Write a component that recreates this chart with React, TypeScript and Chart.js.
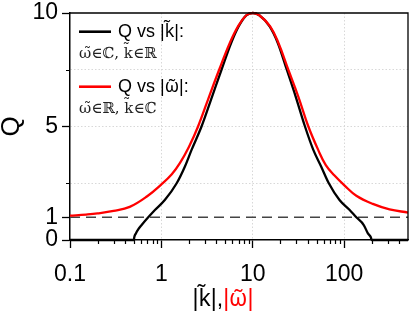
import React, { useEffect, useRef } from "react";
import { Chart, registerables } from "chart.js";

Chart.register(...registerables);

// ---- data ----
const redX = [0.1, 0.15, 0.2, 0.3, 0.45, 0.7, 1.0, 1.3, 1.6, 2.0, 2.52, 3.33, 4.29, 5.61, 6.9, 8.5, 10, 11.8, 15.5, 19.1, 24.5, 31.5, 40.6, 52, 63, 78, 100, 136, 206, 314, 500];
const redQ = [1.07, 1.12, 1.17, 1.28, 1.46, 1.93, 2.45, 2.9, 3.4, 4.1, 5.0, 6.32, 7.5, 8.68, 9.41, 9.9, 10, 9.9, 9.41, 8.68, 7.5, 6.32, 5.0, 3.97, 3.3, 2.85, 2.42, 1.95, 1.59, 1.35, 1.21];

const blackX = [0.1, 0.5, 0.505, 0.526, 0.56, 0.608, 0.718, 0.85, 1.09, 1.47, 1.81, 2.14, 2.75, 3.59, 4.55, 5.8, 7.0, 8.5, 10, 11.8, 15.3, 18.8, 23.6, 29.5, 37.3, 46, 56, 68, 89, 115, 136, 164, 182, 196, 200, 500];
const blackQ = [0, 0, 0.12, 0.29, 0.48, 0.66, 1.0, 1.32, 1.76, 2.5, 3.24, 3.97, 5.0, 6.32, 7.5, 8.68, 9.41, 9.9, 10, 9.9, 9.41, 8.68, 7.5, 6.32, 5.0, 3.97, 3.24, 2.5, 1.76, 1.32, 1.0, 0.66, 0.29, 0.12, 0, 0];

const refX = [0.1, 500];
const refQ = [1, 1];

const xMajorTicks = [0.1, 1, 10, 100];
const xMinorTicks = [0.2, 0.3, 0.4, 0.5, 0.6, 0.7, 0.8, 0.9, 2, 3, 4, 5, 6, 7, 8, 9, 20, 30, 40, 50, 60, 70, 80, 90, 200, 300, 400];
const xGridValues = [1, 10, 100];
const yMajorTicks = [0, 1, 5, 10];
const yMinorTicks = [2.5, 7.5];
const yGridValues = [2.5, 5, 7.5];

const K_T = "k\u0303";
const W_T = "\u03C9\u0303";

const SANS = '"Liberation Sans", Arial, sans-serif';
const MARK = '"Noto Sans", "DejaVu Sans", sans-serif';
const SERIF = '"DejaVu Serif", serif';

type Seg = { text: string; font: string; color: string };

const legendItems: { color: string; title: Seg[]; sub: Seg[] }[] = [
  {
    color: "#000000",
    title: [
      { text: "Q vs |", font: `18px ${SANS}`, color: "#000" },
      { text: K_T, font: `18px ${MARK}`, color: "#000" },
      { text: "|:", font: `18px ${SANS}`, color: "#000" },
    ],
    sub: [{ text: `${W_T}\u2208\u2102, ${K_T}\u2208\u211D`, font: `15px ${SERIF}`, color: "#222" }],
  },
  {
    color: "#ff0000",
    title: [
      { text: "Q vs |", font: `18px ${SANS}`, color: "#000" },
      { text: W_T, font: `18px ${MARK}`, color: "#000" },
      { text: "|:", font: `18px ${SANS}`, color: "#000" },
    ],
    sub: [{ text: `${W_T}\u2208\u211D, ${K_T}\u2208\u2102`, font: `15px ${SERIF}`, color: "#222" }],
  },
];
const xTitleParts: Seg[] = [
  { text: "|", font: `23px ${SANS}`, color: "#000" },
  { text: K_T, font: `23px ${MARK}`, color: "#000" },
  { text: "|,", font: `23px ${SANS}`, color: "#000" },
  { text: "|", font: `23px ${SANS}`, color: "#ff0000" },
  { text: W_T, font: `23px ${MARK}`, color: "#ff0000" },
  { text: "|", font: `23px ${SANS}`, color: "#ff0000" },
];
const yTitle = "Q";

const toPts = (xs: number[], ys: number[]) => xs.map((x, i) => ({ x, y: ys[i] }));

function segWidth(ctx: CanvasRenderingContext2D, segs: Seg[]) {
  return segs.reduce((a, s) => {
    ctx.font = s.font;
    return a + ctx.measureText(s.text).width;
  }, 0);
}
function drawSegs(ctx: CanvasRenderingContext2D, segs: Seg[], x: number, y: number) {
  segs.forEach((s) => {
    ctx.font = s.font;
    ctx.fillStyle = s.color;
    ctx.fillText(s.text, x, y);
    x += ctx.measureText(s.text).width;
  });
}

const decorPlugin = {
  id: "decor",
  afterDraw(chart: any) {
    const { ctx, chartArea: ca, scales } = chart;
    const xs = scales.x;
    const ys = scales.y;
    ctx.save();
    // frame (top / right)
    ctx.strokeStyle = "#000";
    ctx.lineWidth = 1.3;
    ctx.beginPath();
    ctx.moveTo(ca.left, ca.top);
    ctx.lineTo(ca.right, ca.top);
    ctx.lineTo(ca.right, ca.bottom);
    ctx.stroke();
    // minor ticks
    ctx.lineWidth = 1.2;
    ctx.beginPath();
    xMinorTicks.forEach((v) => {
      const px = Math.round(xs.getPixelForValue(v)) + 0.5;
      ctx.moveTo(px, ca.bottom);
      ctx.lineTo(px, ca.bottom + 4);
    });
    yMinorTicks.forEach((v) => {
      const py = Math.round(ys.getPixelForValue(v)) + 0.5;
      ctx.moveTo(ca.left - 4, py);
      ctx.lineTo(ca.left, py);
    });
    ctx.stroke();

    ctx.textAlign = "left";
    ctx.textBaseline = "alphabetic";
    // legend
    legendItems.forEach((item, i) => {
      const top = ca.top + i * 55;
      ctx.strokeStyle = item.color;
      ctx.lineWidth = 2.6;
      ctx.beginPath();
      ctx.moveTo(ca.left + 9, top + 18.7);
      ctx.lineTo(ca.left + 41, top + 18.7);
      ctx.stroke();
      drawSegs(ctx, item.title, ca.left + 48, top + 24);
      drawSegs(ctx, item.sub, ca.left + 9, top + 44.5);
    });

    // x-axis title in two colours
    const total = segWidth(ctx, xTitleParts);
    const x0 = (ca.left + ca.right) / 2 - 16 - total / 2;
    drawSegs(ctx, xTitleParts, x0, 306);
    ctx.restore();
  },
};

export default function App() {
  const ref = useRef<HTMLCanvasElement>(null);
  useEffect(() => {
    const canvas = ref.current;
    if (!canvas) return;
    const chart = new Chart(canvas, {
      type: "line",
      data: {
        datasets: [
          {
            label: "Q vs |ω|",
            data: toPts(redX, redQ),
            borderColor: "#ff0000",
            borderWidth: 2.3,
            pointRadius: 0,
            tension: 0.4,
            clip: false,
          },
          {
            label: "Q vs |k|",
            data: toPts(blackX, blackQ),
            borderColor: "#000000",
            borderWidth: 2.3,
            pointRadius: 0,
            cubicInterpolationMode: "monotone",
            clip: false,
          },
          {
            label: "Q = 1",
            data: toPts(refX, refQ),
            borderColor: "#444444",
            borderWidth: 1.4,
            borderDash: [10, 6],
            pointRadius: 0,
            tension: 0,
          },
        ],
      },
      options: {
        animation: false,
        responsive: true,
        maintainAspectRatio: false,
        layout: { padding: { top: 13, right: 7, left: 0, bottom: 0 } },
        plugins: { legend: { display: false }, tooltip: { enabled: false } },
        scales: {
          x: {
            type: "logarithmic",
            min: 0.1,
            max: 500,
            afterBuildTicks: (axis: any) => {
              axis.ticks = [...xMajorTicks, ...xMinorTicks, 500]
                .sort((a, b) => a - b)
                .map((v) => ({ value: v, major: xMajorTicks.includes(v) }));
            },
            afterFit: (axis: any) => {
              axis.height = 81;
              axis.paddingLeft = 0;
              axis.paddingRight = 0;
            },
            ticks: {
              autoSkip: false,
              maxRotation: 0,
              padding: 13,
              color: "#000",
              font: { family: SANS, size: 23 },
              callback: (v: any) => (xMajorTicks.includes(Number(v)) ? String(v) : ""),
            },
            grid: {
              color: (c: any) => (c.tick && xGridValues.includes(c.tick.value) ? "#d8d8d8" : "rgba(0,0,0,0)"),
              tickColor: (c: any) => (c.tick && xMajorTicks.includes(c.tick.value) ? "#000" : "rgba(0,0,0,0)"),
              tickLength: 8,
              tickWidth: 1.3,
              lineWidth: 1,
            },
            border: { color: "#000", width: 1.5, dash: [1.5, 2] },
          },
          y: {
            type: "linear",
            min: 0,
            max: 10,
            afterBuildTicks: (axis: any) => {
              axis.ticks = [...yMajorTicks, ...yMinorTicks].sort((a, b) => a - b).map((v) => ({ value: v }));
            },
            afterFit: (axis: any) => {
              axis.width = 70;
              axis.paddingTop = 0;
              axis.paddingBottom = 0;
            },
            ticks: {
              autoSkip: false,
              padding: 4,
              color: "#000",
              font: { family: SANS, size: 23 },
              callback: (v: any) => (yMajorTicks.includes(Number(v)) ? String(v) : ""),
            },
            grid: {
              color: (c: any) => (c.tick && yGridValues.includes(c.tick.value) ? "#d8d8d8" : "rgba(0,0,0,0)"),
              tickColor: (c: any) => (c.tick && yMajorTicks.includes(c.tick.value) ? "#000" : "rgba(0,0,0,0)"),
              tickLength: 8,
              tickWidth: 1.3,
              lineWidth: 1,
            },
            border: { color: "#000", width: 1.5, dash: [1.5, 2] },
            title: {
              display: true,
              text: yTitle,
              color: "#000",
              font: { family: SANS, size: 26, lineHeight: 1 },
              padding: { top: -1, bottom: 0 },
            },
          },
        },
      },
      plugins: [decorPlugin],
    } as any);
    return () => chart.destroy();
  }, []);
  return (
    <div style={{ position: "fixed", left: 0, top: 0, width: 415, height: 321 }}>
      <canvas ref={ref} />
    </div>
  );
}
